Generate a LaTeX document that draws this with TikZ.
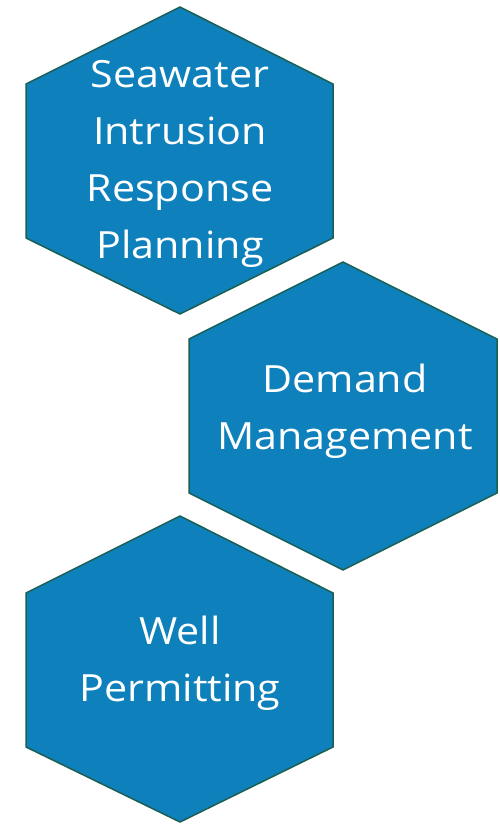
\documentclass[tikz,border=0pt]{standalone}
\usepackage{fontspec}
\setmainfont[FakeStretch=1.1]{Open Sans}
\definecolor{hexfill}{HTML}{0E80BC}
\definecolor{hexline}{HTML}{1B5E52}
\begin{document}
\begin{tikzpicture}[x=1pt,y=-1pt,
  hexa/.style={fill=hexfill,draw=hexline,line width=1.5pt,line join=miter},
  lbl/.style={text=white,align=center,inner sep=0pt,font=\fontsize{37.5}{57}\selectfont}]
\useasboundingbox (0,0) rectangle (499,824);
\draw[hexa] (180,7) -- (333,84) -- (333,238) -- (180,314) -- (26,238) -- (26,84) -- cycle;
\draw[hexa] (343,262) -- (497,339) -- (497,493) -- (343,570) -- (189,493) -- (189,339) -- cycle;
\draw[hexa] (180,516) -- (333,593) -- (333,747) -- (180,822) -- (26,747) -- (26,593) -- cycle;
\node[lbl] (h1) at (180,164) {Seawater\\Intrusion\\Response\\Planning};
\node[lbl] (h2) at (345,411) {Demand\\Management};
\node[lbl] (h3) at (180,663) {Well\\Permitting};
\end{tikzpicture}
\end{document}
